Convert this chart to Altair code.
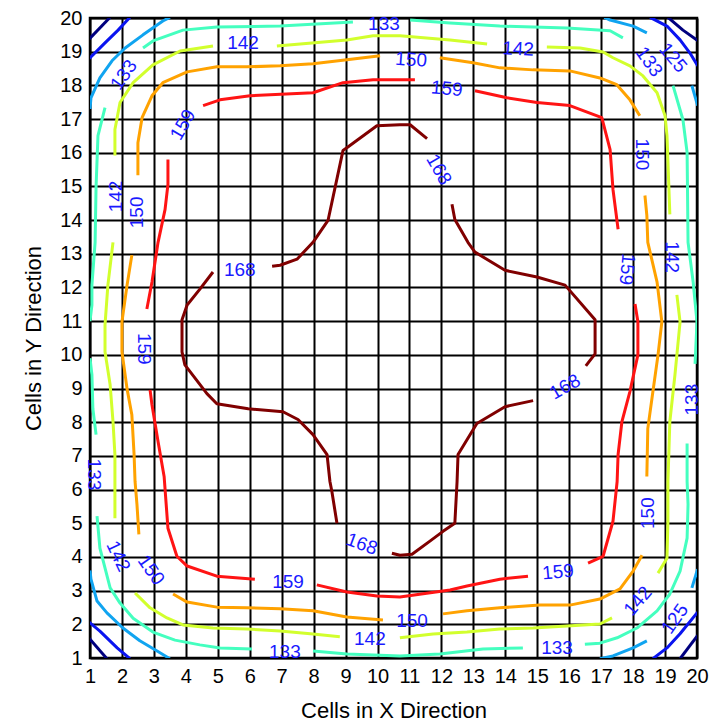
import altair as alt
import pandas as pd

# contour levels and their colours
levels = [108, 116, 125, 133, 142, 150, 159, 168]
colors = ["#00007f", "#0a14f0", "#10a4f0", "#44ffbf", "#d2ff2d", "#ffa200", "#ff1414", "#800000"]

# contour polylines (data units), one list per level, split at label gaps
c108 = [
    [(0.98, 19.38), (1.63, 20.02)],
    [(19.09, 20.02), (19.56, 19.64), (20.02, 19.33)],
    [(0.98, 1.58), (1.53, 0.98)],
    [(20.02, 1.67), (19.47, 0.98)],
]
c116 = [
    [(0.98, 18.80), (1.47, 19.26), (1.88, 19.64), (2.25, 20.02)],
    [(18.53, 20.02), (19.06, 19.76), (19.47, 19.35), (19.78, 18.96), (20.02, 18.58)],
    [(0.98, 2.06), (1.31, 1.80), (1.85, 1.30), (2.25, 0.98)],
    [(20.02, 2.36), (19.47, 1.72), (19.06, 1.30), (18.62, 0.98)],
]
c125 = [
    [(1.0, 17.3), (1.03, 17.63), (1.31, 18.22), (1.69, 18.73), (2.10, 19.11), (2.66, 19.50), (3.28, 19.91), (3.50, 20.02)],
    [(17.1, 20.02), (17.28, 19.94), (18.0, 19.76), (18.43, 19.56)],
    [(19.84, 17.99), (20.02, 17.40)],
    [(1.0, 3.6), (1.03, 3.34), (1.22, 2.69), (1.53, 2.34), (2.03, 1.89), (2.56, 1.51), (3.10, 1.21), (3.50, 0.98)],
    [(20.02, 3.64), (19.84, 3.08)],
    [(18.43, 1.51), (18.0, 1.30), (17.37, 1.06), (16.96, 0.98)],
]
c133 = [
    [(11.02, 19.94), (12.27, 19.85), (13.83, 19.76), (15.93, 19.70), (17.28, 19.62), (17.68, 19.41)],
    [(19.25, 17.99), (19.56, 16.98), (19.69, 16.01), (19.72, 13.34), (19.88, 12.16), (20.0, 10.98), (19.94, 9.73)],
    [(19.69, 7.37), (19.69, 6.24), (19.72, 5.56), (19.69, 4.56), (19.47, 3.58), (19.15, 2.90), (18.75, 2.40),
     (18.12, 1.89), (17.50, 1.60), (16.96, 1.44), (16.49, 1.41)],
    [(14.55, 1.30), (13.30, 1.27), (11.95, 1.12), (10.70, 1.06), (9.04, 1.12), (7.98, 1.21)],
    [(6.07, 1.27), (5.07, 1.30), (4.44, 1.39), (3.66, 1.53), (2.97, 1.77), (2.35, 2.18), (1.94, 2.63),
     (1.63, 3.08), (1.31, 4.26), (1.22, 5.21)],
    [(1.19, 7.63), (1.09, 8.40), (1.06, 9.41), (1.0, 9.9)],
    [(1.0, 11.0), (1.06, 11.48), (1.06, 12.07), (1.16, 13.34), (1.19, 15.0), (1.25, 16.51), (1.47, 17.34)],
    [(2.66, 19.11), (2.97, 19.32), (3.91, 19.64), (4.97, 19.73), (6.95, 19.76), (9.23, 19.88)],
]
c142 = [
    [(4.85, 19.17), (3.82, 19.02), (2.97, 18.61), (2.35, 18.08), (1.94, 17.49), (1.78, 16.69), (1.78, 15.92)],
    [(1.72, 13.34), (1.56, 12.07), (1.47, 10.89), (1.47, 10.09), (1.63, 9.11), (1.72, 8.02), (1.78, 7.04),
     (1.78, 6.24), (1.78, 5.15)],
    [(2.41, 2.93), (2.88, 2.49), (3.41, 2.19), (3.91, 1.98), (4.85, 1.89), (5.91, 1.86), (6.95, 1.80),
     (7.98, 1.71), (8.82, 1.63)],
    [(10.70, 1.60), (11.74, 1.71), (12.80, 1.77), (13.83, 1.86), (14.87, 1.89), (15.93, 1.95), (16.96, 2.01),
     (17.34, 2.19)],
    [(18.78, 3.52), (19.06, 3.96), (19.09, 5.06), (19.09, 6.24), (19.15, 8.02), (19.31, 9.41), (19.47, 10.98),
     (19.37, 11.78)],
    [(19.15, 14.17), (19.06, 16.51), (19.00, 17.10), (18.75, 17.78), (18.31, 18.28), (17.90, 18.58),
     (17.37, 18.82), (17.06, 18.99), (16.34, 19.11), (15.30, 19.14)],
    [(13.43, 19.23), (12.27, 19.35), (10.70, 19.47), (9.86, 19.47), (9.04, 19.35), (6.85, 19.17)],
]
c150 = [
    [(10.08, 18.88), (9.04, 18.76), (7.98, 18.64), (6.95, 18.58), (5.91, 18.55), (4.97, 18.55), (4.04, 18.40),
     (3.28, 18.08), (2.94, 17.69), (2.63, 17.04), (2.50, 16.30), (2.50, 15.33)],
    [(2.31, 12.96), (2.16, 12.07), (2.00, 10.98), (2.00, 10.09), (2.16, 8.99), (2.31, 8.22), (2.38, 7.04),
     (2.41, 6.24), (2.47, 5.56), (2.53, 4.67)],
    [(3.60, 2.90), (4.04, 2.66), (4.97, 2.51), (5.91, 2.49), (6.95, 2.46), (7.98, 2.40), (9.04, 2.22),
     (10.17, 2.13)],
    [(12.05, 2.31), (12.80, 2.40), (13.83, 2.49), (15.08, 2.57), (16.02, 2.57), (16.96, 2.75), (17.59, 3.05),
     (18.00, 3.58), (18.28, 4.05)],
    [(18.43, 6.39), (18.46, 7.81), (18.62, 8.91), (18.78, 10.00), (18.90, 10.98), (18.75, 12.16),
     (18.46, 13.34), (18.43, 14.14), (18.37, 14.73)],
    [(18.21, 17.10), (17.90, 17.57), (17.49, 18.02), (16.96, 18.22), (16.02, 18.43), (14.87, 18.46),
     (13.83, 18.52), (12.99, 18.67), (11.95, 18.82)],
]
c159 = [
    [(4.54, 17.40), (5.07, 17.57), (6.01, 17.69), (7.98, 17.78), (8.92, 18.08), (9.86, 18.17), (10.70, 18.17),
     (11.17, 18.17)],
    [(13.05, 17.84), (14.05, 17.63), (14.99, 17.49), (16.02, 17.40), (17.02, 17.04), (17.28, 16.09),
     (17.37, 14.91), (17.53, 13.73)],
    [(18.06, 11.51), (18.15, 10.98), (18.15, 10.00), (17.90, 8.91), (17.65, 8.02), (17.53, 7.04), (17.50, 6.24),
     (17.37, 5.06), (17.06, 4.02), (16.59, 3.82)],
    [(14.71, 3.43), (13.83, 3.34), (12.80, 3.14), (12.27, 3.02), (10.70, 2.81), (9.98, 2.84), (9.04, 2.96),
     (8.10, 3.17)],
    [(6.16, 3.34), (4.97, 3.43), (4.04, 3.73), (3.72, 4.02), (3.44, 4.85), (3.32, 6.39), (3.13, 7.43),
     (2.94, 8.52), (2.88, 8.96)],
    [(2.78, 11.36), (2.94, 12.16), (3.13, 13.34), (3.35, 14.32), (3.44, 15.06), (3.44, 15.80)],
]
c168 = [
    [(6.70, 12.63), (6.95, 12.66), (7.48, 12.84), (7.98, 13.34), (8.45, 13.99), (8.92, 16.07), (9.04, 16.15),
     (9.98, 16.80), (10.70, 16.83), (11.02, 16.83), (11.55, 16.42)],
    [(12.33, 14.47), (12.42, 14.02), (12.83, 13.34), (13.05, 13.05), (13.99, 12.51), (14.99, 12.31),
     (15.87, 12.07), (16.81, 11.04), (16.81, 10.03), (16.52, 9.67)],
    [(14.87, 8.64), (13.99, 8.46), (13.11, 7.96), (12.52, 7.04), (12.49, 6.24), (12.42, 5.00), (12.05, 4.76),
     (11.64, 4.47), (11.08, 4.08), (10.70, 4.05), (10.45, 4.11)],
    [(8.73, 5.00), (8.57, 5.95), (8.51, 6.24), (8.42, 7.04), (7.98, 7.63), (7.51, 8.08), (7.04, 8.31),
     (5.95, 8.40), (4.97, 8.55), (4.66, 8.85), (3.97, 9.70), (3.88, 10.09), (3.88, 11.04), (4.04, 11.48),
     (4.44, 11.95), (4.85, 12.46)],
]

# contour labels
label_text = ["133", "142", "142", "150", "159", "133", "159", "142", "150", "159", "168", "168",
              "150", "159", "142", "133", "168", "150", "159", "142", "125", "125", "133", "133",
              "142", "150", "159", "168", "133", "150", "142", "133"]
label_x = [10.20, 5.79, 14.40, 11.05, 12.17, 2.06, 3.91, 1.81, 2.47, 2.69, 5.69, 11.92,
           18.28, 17.81, 19.22, 19.84, 15.87, 18.46, 15.65, 18.15, 19.31, 19.25, 18.50, 15.62,
           9.76, 11.08, 7.20, 9.51, 7.10, 2.91, 1.88, 1.13]
label_y = [19.82, 19.26, 19.08, 18.76, 17.90, 18.31, 16.83, 14.70, 14.23, 10.18, 12.51, 15.50,
           15.95, 12.54, 12.90, 8.67, 9.05, 5.30, 3.55, 2.69, 2.16, 18.82, 18.70, 1.30,
           1.57, 2.10, 3.25, 4.38, 1.18, 3.61, 4.02, 6.45]
label_angle = [0, 0, 3, 4, 5, 305, 300, 270, 270, 90, 0, 60,
               90, 95, 90, 270, 330, 270, 355, 310, 305, 50, 55, 0,
               0, 0, 0, 20, 0, 55, 65, 90]

ticks = list(range(1, 21))

rows = []
for lev, segs in zip(levels, [c108, c116, c125, c133, c142, c150, c159, c168]):
    for si, seg in enumerate(segs):
        for oi, (x, y) in enumerate(seg):
            rows.append({"level": str(lev), "seg": f"{lev}_{si}", "order": oi, "x": x, "y": y})
df = pd.DataFrame(rows)

labels = pd.DataFrame({"t": label_text, "x": label_x, "y": label_y, "angle": label_angle})

xscale = alt.Scale(domain=[1, 20], nice=False, zero=False)
yscale = alt.Scale(domain=[1, 20], nice=False, zero=False)
xaxis = alt.Axis(values=ticks, title="Cells in X Direction", labelFlush=False, labelOverlap=False,
                 labelPadding=8, titlePadding=14)
yaxis = alt.Axis(values=ticks, title="Cells in Y Direction", labelFlush=False, labelOverlap=False,
                 labelPadding=8, titlePadding=14)

lines = alt.Chart(df).mark_line(strokeWidth=3, clip=True, strokeJoin="round").encode(
    x=alt.X("x:Q", scale=xscale, axis=xaxis),
    y=alt.Y("y:Q", scale=yscale, axis=yaxis),
    color=alt.Color("level:N", scale=alt.Scale(domain=[str(l) for l in levels], range=colors), legend=None),
    detail="seg:N",
    order="order:Q",
)

texts = alt.Chart(labels).mark_text(font="Liberation Sans", fontSize=19, color="#1a1aff",
                                    align="center", baseline="middle").encode(
    x=alt.X("x:Q", scale=xscale, axis=xaxis),
    y=alt.Y("y:Q", scale=yscale, axis=yaxis),
    text="t:N",
    angle=alt.Angle("angle:Q", scale=None),
)

chart = alt.layer(lines, texts).properties(
    width=607, height=640,
    padding={"left": 82, "top": 10, "right": 12, "bottom": 63},
    autosize=alt.AutoSizeParams(type="none"),
).configure_axis(
    grid=True, gridColor="black", gridWidth=2, gridOpacity=1,
    domain=False, ticks=False,
    labelFont="Liberation Sans", labelFontSize=20, labelColor="black",
    titleFont="Liberation Sans", titleFontSize=22, titleFontWeight="normal", titleColor="black",
    zindex=1,
).configure_view(stroke="black", strokeWidth=2.5)

chart.save("out.html", embed_options={"renderer": "svg", "actions": False})
